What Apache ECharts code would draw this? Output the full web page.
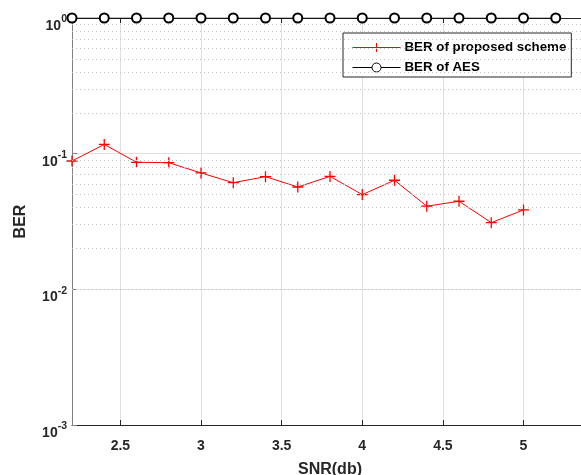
<!DOCTYPE html>
<html><head><meta charset="utf-8">
<script src="https://cdn.jsdelivr.net/npm/echarts@6/dist/echarts.min.js"></script>
<style>html,body{margin:0;padding:0;background:#fff}#c{width:581px;height:475px}</style>
</head><body><div id="c"></div>
<script>
const snrProposed = [2.2, 2.4, 2.6, 2.8, 3.0, 3.2, 3.4, 3.6, 3.8, 4.0, 4.2, 4.4, 4.6, 4.8, 5.0];
const berProposed = [0.0883, 0.117, 0.0864, 0.0858, 0.0721, 0.0611, 0.0677, 0.0568, 0.068, 0.0499, 0.0637, 0.041, 0.0446, 0.031, 0.0385];
const snrAES = [2.2, 2.4, 2.6, 2.8, 3.0, 3.2, 3.4, 3.6, 3.8, 4.0, 4.2, 4.4, 4.6, 4.8, 5.0, 5.2];
const berAES = [1, 1, 1, 1, 1, 1, 1, 1, 1, 1, 1, 1, 1, 1, 1, 1];
const xTicks = [2.5, 3, 3.5, 4, 4.5, 5];
const yTicks = [0.001, 0.01, 0.1, 1];
const minorY = [];
[0.001, 0.01, 0.1].forEach(d => { for (let m = 2; m <= 9; m++) minorY.push(+(d * m).toPrecision(3)); });

const FONT = '"Liberation Sans", Arial, sans-serif';
const ICON_PLUS = 'path://M0,4.5L48,4.5M24,0L24,9M19.5,4.5L28.5,4.5';
const ICON_CIRCLE = 'path://M0,4.5L19.5,4.5M28.5,4.5L48,4.5M28.5,4.5A4.5,4.5,0,1,1,19.5,4.5A4.5,4.5,0,1,1,28.5,4.5Z';
const chart = echarts.init(document.getElementById('c'), null, {renderer: 'canvas'});
chart.setOption({
  animation: false,
  backgroundColor: '#fff',
  textStyle: {fontFamily: FONT},
  grid: {left: 72, top: 18, bottom: 50, right: -7, containLabel: false, outerBoundsMode: 'none'},
  legend: {
    left: 343, top: 33,
    orient: 'vertical',
    data: [
      {name: 'BER of proposed scheme', icon: ICON_PLUS,
       itemStyle: {color: 'rgba(0,0,0,0)', borderColor: '#ff0000', borderWidth: 1}},
      {name: 'BER of AES', icon: ICON_CIRCLE,
       itemStyle: {color: '#ffffff', borderColor: '#000000', borderWidth: 1}}
    ],
    itemWidth: 48, itemHeight: 9, itemGap: 7,
    padding: [8, 5, 3, 9],
    borderColor: '#262626', borderWidth: 1, borderRadius: 0,
    backgroundColor: '#fff',
    textStyle: {fontFamily: FONT, fontSize: 13.3, fontWeight: 'bold', color: '#000', padding: [0, 0, 0, -1]}
  },
  xAxis: [{
    type: 'value', min: 2.2, max: 5.4,
    name: 'SNR(db)', nameLocation: 'middle', nameGap: 37,
    nameTextStyle: {fontFamily: FONT, fontSize: 16, fontWeight: 'bold', color: '#262626'},
    axisLine: {lineStyle: {color: '#262626', width: 1}},
    axisTick: {inside: true, length: 5, customValues: xTicks, lineStyle: {color: '#262626'}},
    axisLabel: {customValues: xTicks, margin: 14, fontFamily: FONT, fontSize: 14, fontWeight: 'bold', color: '#262626',
      formatter: v => String(v)},
    splitLine: {show: true, lineStyle: {color: '#e0e0e0', width: 1}}
  }, {
    type: 'value', min: 2.2, max: 5.4, position: 'top',
    axisLine: {show: true, lineStyle: {color: '#262626', width: 1}},
    axisTick: {show: true, inside: true, length: 5, customValues: xTicks, lineStyle: {color: '#262626'}},
    axisLabel: {show: false},
    splitLine: {show: false}
  }],
  yAxis: {
    type: 'log', logBase: 10, min: 0.001, max: 1,
    name: 'BER', nameLocation: 'middle', nameGap: 43,
    nameTextStyle: {fontFamily: FONT, fontSize: 16, fontWeight: 'bold', color: '#262626'},
    axisLine: {show: true, lineStyle: {color: '#808080', width: 1}},
    axisTick: {show: true, inside: true, length: 5, lineStyle: {color: '#808080'}},
    axisLabel: {
      margin: 5,
      padding: [7, 0, 0, 0],
      formatter: v => '{b|10}{s|' + Math.round(Math.log10(v)) + '}',
      rich: {
        b: {fontFamily: FONT, fontSize: 14, fontWeight: 'bold', color: '#262626', verticalAlign: 'bottom', padding: [0, 0, -4, 0]},
        s: {fontFamily: FONT, fontSize: 10.5, fontWeight: 'bold', color: '#262626', verticalAlign: 'bottom', padding: [0, 0, 4, 0]}
      }
    },
    splitLine: {show: true, lineStyle: {color: '#e0e0e0', width: 1}}
  },
  series: [{
    name: 'minor-grid',
    type: 'line',
    data: [],
    silent: true,
    z: 1,
    markLine: {
      silent: true, symbol: ['none', 'none'], label: {show: false},
      lineStyle: {type: [1, 3], color: '#c4c4c4', width: 1},
      emphasis: {disabled: true},
      data: minorY.map(v => ({yAxis: v}))
    }
  }, {
    name: 'BER of proposed scheme',
    type: 'line',
    data: snrProposed.map((x, i) => [x, berProposed[i]]),
    symbol: 'path://M5,0L5,10M0,5L10,5',
    symbolSize: 11,
    color: '#ff0000',
    lineStyle: {color: '#ff0000', width: 1},
    itemStyle: {color: '#ff0000', borderColor: '#ff0000', borderWidth: 1.3},
    z: 3
  }, {
    name: 'BER of AES',
    type: 'line',
    data: snrAES.map((x, i) => [x, berAES[i]]),
    symbol: 'emptyCircle',
    symbolSize: 9,
    color: '#000',
    lineStyle: {color: '#000', width: 1},
    itemStyle: {color: '#000', borderColor: '#000', borderWidth: 1},
    z: 4
  }]
});
</script></body></html>
